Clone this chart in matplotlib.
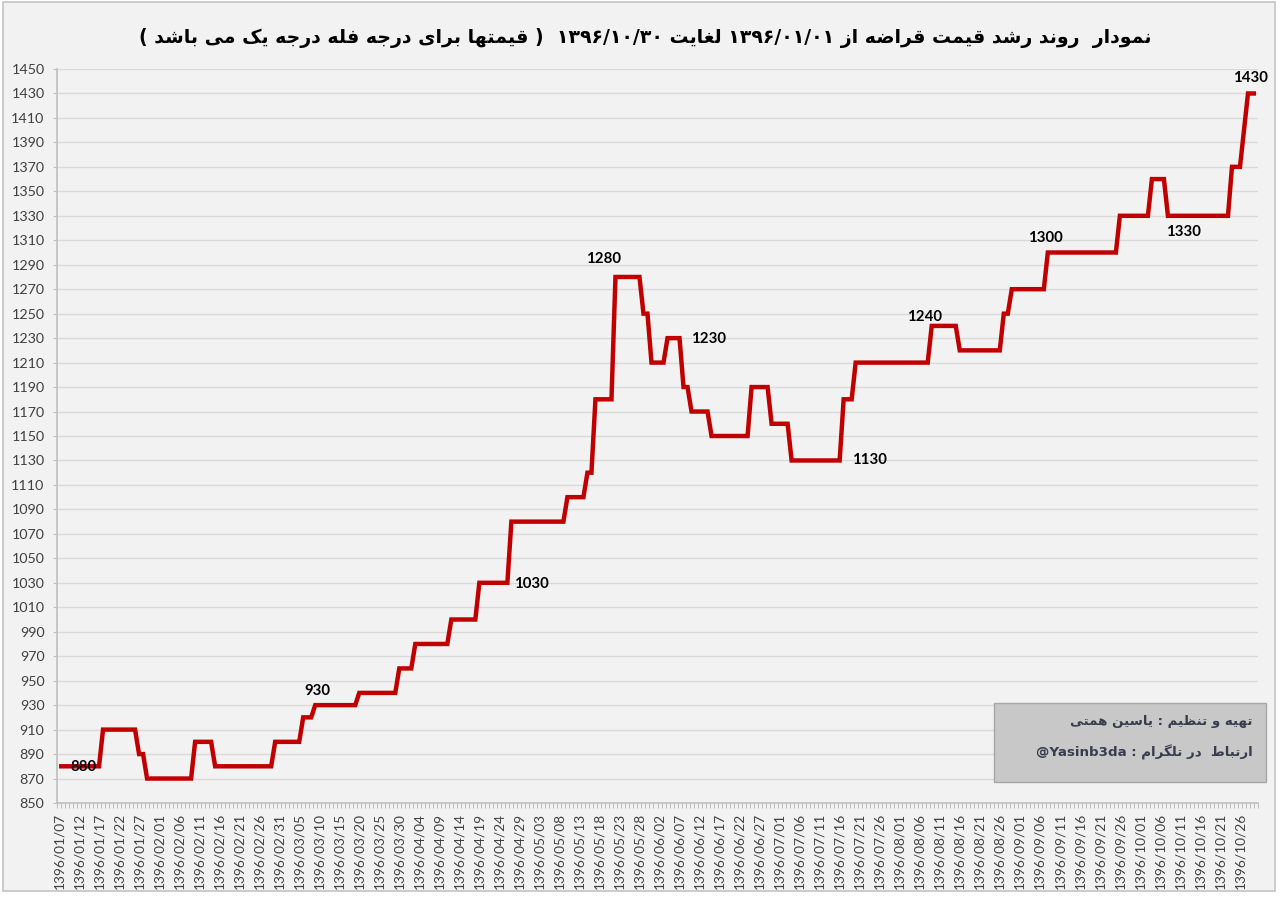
import numpy as np
import matplotlib
matplotlib.use("Agg")
import matplotlib.pyplot as plt
from matplotlib import font_manager
from matplotlib.ft2font import FT2Font
from matplotlib.patches import Rectangle

# ---------------- data ----------------
start_date = (1396, 1, 7)
month_lengths = [31, 31, 31, 31, 31, 31, 30, 30, 30, 30, 30, 29]
label_every = 5
# daily price series, stored as runs: value held for N consecutive days
run_values = [880, 910, 890, 870, 900, 880, 900, 920, 930, 940, 960, 980, 1000,
              1030, 1080, 1100, 1120, 1180, 1280, 1250, 1210, 1230, 1190, 1170,
              1150, 1190, 1160, 1130, 1180, 1210, 1240, 1220, 1250, 1270, 1300,
              1330, 1360, 1330, 1370, 1400, 1430]
run_days = [11, 9, 2, 12, 5, 15, 7, 3, 11, 10, 4, 9, 7,
            8, 14, 5, 2, 5, 7, 2, 4, 4, 2, 5,
            10, 5, 5, 13, 3, 19, 7, 11, 2, 9, 18,
            8, 4, 16, 3, 1, 3]
# annotated points: (day index, dx px, dy px)
label_points = [(6, 0, -1), (64, 2, 14), (112, 24, -1), (139, -12, 18),
                (155, 29, -1), (195, 30, 0), (218, -7, 9), (247, -2, 14),
                (277, 16, -16), (297, 2, 15)]
y_ticks = list(range(850, 1451, 20))

title_text = "نمودار  روند رشد قیمت قراضه از ۱۳۹۶/۰۱/۰۱ لغایت ۱۳۹۶/۱۰/۳۰  ( قیمتها برای درجه فله درجه یک می باشد )"
credit_1 = "تهیه و تنظیم : یاسین همتی"
credit_2 = "ارتباط  در تلگرام : @Yasinb3da"

values = np.repeat(run_values, run_days)
n_days = len(values)

def persian_dates(start, n):
    y, m, d = start
    out = []
    for _ in range(n):
        out.append(f"{y}/{m:02d}/{d:02d}")
        d += 1
        if d > month_lengths[m - 1]:
            d = 1
            m += 1
    return out

dates = persian_dates(start_date, n_days)

# ---------------- simple Persian shaping / bidi ----------------
bold_path = font_manager.findfont(font_manager.FontProperties(family="DejaVu Sans", weight="bold"))
_ft = FT2Font(bold_path)

def has(cp):
    return _ft.get_char_index(cp) != 0

FORMS = {
    '\u0627': (0xFE8D, 0xFE8E, None, None),
    '\u0622': (0xFE81, 0xFE82, None, None),
    '\u0628': (0xFE8F, 0xFE90, 0xFE91, 0xFE92),
    '\u062A': (0xFE95, 0xFE96, 0xFE97, 0xFE98),
    '\u062B': (0xFE99, 0xFE9A, 0xFE9B, 0xFE9C),
    '\u062C': (0xFE9D, 0xFE9E, 0xFE9F, 0xFEA0),
    '\u062D': (0xFEA1, 0xFEA2, 0xFEA3, 0xFEA4),
    '\u062E': (0xFEA5, 0xFEA6, 0xFEA7, 0xFEA8),
    '\u062F': (0xFEA9, 0xFEAA, None, None),
    '\u0630': (0xFEAB, 0xFEAC, None, None),
    '\u0631': (0xFEAD, 0xFEAE, None, None),
    '\u0632': (0xFEAF, 0xFEB0, None, None),
    '\u0633': (0xFEB1, 0xFEB2, 0xFEB3, 0xFEB4),
    '\u0634': (0xFEB5, 0xFEB6, 0xFEB7, 0xFEB8),
    '\u0635': (0xFEB9, 0xFEBA, 0xFEBB, 0xFEBC),
    '\u0636': (0xFEBD, 0xFEBE, 0xFEBF, 0xFEC0),
    '\u0637': (0xFEC1, 0xFEC2, 0xFEC3, 0xFEC4),
    '\u0638': (0xFEC5, 0xFEC6, 0xFEC7, 0xFEC8),
    '\u0639': (0xFEC9, 0xFECA, 0xFECB, 0xFECC),
    '\u063A': (0xFECD, 0xFECE, 0xFECF, 0xFED0),
    '\u0641': (0xFED1, 0xFED2, 0xFED3, 0xFED4),
    '\u0642': (0xFED5, 0xFED6, 0xFED7, 0xFED8),
    '\u0643': (0xFED9, 0xFEDA, 0xFEDB, 0xFEDC),
    '\u0644': (0xFEDD, 0xFEDE, 0xFEDF, 0xFEE0),
    '\u0645': (0xFEE1, 0xFEE2, 0xFEE3, 0xFEE4),
    '\u0646': (0xFEE5, 0xFEE6, 0xFEE7, 0xFEE8),
    '\u0647': (0xFEE9, 0xFEEA, 0xFEEB, 0xFEEC),
    '\u0648': (0xFEED, 0xFEEE, None, None),
    '\u064A': (0xFEF1, 0xFEF2, 0xFEF3, 0xFEF4),
    '\u06CC': (0xFEEF, 0xFEF0, 0xFEF3, 0xFEF4),
    '\u067E': (0xFB56, 0xFB57, 0xFB58, 0xFB59),
    '\u0686': (0xFB7A, 0xFB7B, 0xFB7C, 0xFB7D),
    '\u0698': (0xFB8A, 0xFB8B, None, None),
    '\u06A9': (0xFB8E, 0xFB8F, 0xFB90, 0xFB91),
    '\u06AF': (0xFB92, 0xFB93, 0xFB94, 0xFB95),
}
if not has(0xFB8E):
    FORMS['\u06A9'] = (0xFED9, 0xFEDA, 0xFEDB, 0xFEDC)

def glyph(cp, base):
    return chr(cp) if has(cp) else base

def shape_word(w):
    res = []
    i, n = 0, len(w)
    while i < n:
        c = w[i]
        if c not in FORMS:
            if '\u06F0' <= c <= '\u06F9' and not has(ord(c)):
                c = chr(ord(c) - 0x06F0 + 0x0660)
            res.append(c)
            i += 1
            continue
        prev = w[i - 1] if i > 0 else None
        cp = prev is not None and prev in FORMS and FORMS[prev][2] is not None
        if c == '\u0644' and i + 1 < n and w[i + 1] == '\u0627':
            res.append(chr(0xFEFC if cp else 0xFEFB))
            i += 2
            continue
        nxt = w[i + 1] if i + 1 < n else None
        cn = FORMS[c][2] is not None and nxt is not None and nxt in FORMS
        iso, fin, ini, med = FORMS[c]
        g = med if (cp and cn) else fin if cp else ini if cn else iso
        res.append(glyph(g, c))
        i += 1
    return ''.join(res)

def is_arabic_letter_token(t):
    return any(ch in FORMS or ('\u0600' <= ch <= '\u06EF') for ch in t)

def is_ltr_token(t):
    return (not is_arabic_letter_token(t)) and any(ch.isalnum() for ch in t)

def visual(s):
    toks = s.split(' ')
    kinds = []
    out = []
    for t in toks:
        if is_arabic_letter_token(t):
            out.append(shape_word(t)[::-1]); kinds.append('R')
        elif is_ltr_token(t):
            out.append(shape_word(t)); kinds.append('L')
        else:
            out.append(t.translate(str.maketrans('()', ')('))); kinds.append('N')
    out = out[::-1]
    kinds = kinds[::-1]
    res = []
    i = 0
    while i < len(out):
        if kinds[i] == 'L':
            j = i
            while j + 1 < len(out) and kinds[j + 1] == 'L':
                j += 1
            res.extend(out[i:j + 1][::-1])
            i = j + 1
        else:
            res.append(out[i])
            i += 1
    return ' '.join(res)

# ---------------- figure ----------------
W, H = 1280, 899
fig = plt.figure(figsize=(W / 100, H / 100), dpi=100)
fig.patch.set_facecolor('white')
frame = Rectangle((3 / W, 1 - 891 / H), 1272 / W, 889 / H, transform=fig.transFigure,
                  facecolor='#f2f2f2', edgecolor='#c4c4c4', lw=1.2, zorder=-10)
fig.add_artist(frame)

ax = fig.add_axes([57 / W, 1 - 803 / H, (1258 - 57) / W, (803 - 69) / H])
ax.set_zorder(1)
ax.set_facecolor('#f2f2f2')
x = np.arange(n_days)
ax.plot(x, values, color='#c00000', lw=3.2, solid_joinstyle='miter', solid_capstyle='butt', zorder=3)
ax.set_xlim(-0.5, n_days - 0.5)
ax.set_ylim(y_ticks[0], y_ticks[-1])
ax.set_yticks(y_ticks)
ax.grid(axis='y', color='#d9d9d9', lw=1)
ax.set_axisbelow(True)
for s in ['top', 'right']:
    ax.spines[s].set_visible(False)
for s in ['left', 'bottom']:
    ax.spines[s].set_color('#bfbfbf')
    ax.spines[s].set_linewidth(1.2)

tick_font = ['Lato', 'DejaVu Sans']
label_idx = list(range(0, n_days, label_every))
ax.set_xticks(label_idx)
ax.set_xticklabels([dates[i] for i in label_idx], rotation=90, family=tick_font,
                   fontsize=9.9, color='#404040')
ax.set_xticks(np.arange(-0.5, n_days, 1), minor=True)
ax.tick_params(axis='x', which='major', length=0, pad=7)
ax.tick_params(axis='x', which='minor', length=3.5, color='#bfbfbf', width=0.8)
ax.tick_params(axis='y', length=3, color='#bfbfbf', pad=6)
for lab in ax.get_yticklabels():
    lab.set_family(tick_font)
    lab.set_fontsize(10.3)
    lab.set_color('#404040')

for d, dx, dy in label_points:
    ax.annotate(str(values[d]), (d, values[d]), xytext=(dx, dy), textcoords='offset pixels',
                ha='center', va='center', fontsize=10.8, fontweight='bold', family=tick_font,
                color='#000000', zorder=5)

fig.text(645 / W, 1 - 38 / H, visual(title_text), ha='center', va='center',
         fontsize=13.6, fontweight='bold', family=['DejaVu Sans'], color='#000000')

# credit box
box = Rectangle((994 / W, 1 - 782 / H), (1266 - 994) / W, (782 - 703) / H,
                transform=fig.transFigure, facecolor='#c8c8c8',
                edgecolor='#a6a6a6', lw=1, zorder=5)
fig.add_artist(box)
fig.text(1253 / W, 1 - 722 / H, visual(credit_1), ha='right', va='center', fontsize=9.6,
         fontweight='bold', family=['DejaVu Sans'], color='#3b3b4f', zorder=6)
fig.text(1253 / W, 1 - 752 / H, visual(credit_2), ha='right', va='center', fontsize=9.6,
         fontweight='bold', family=['DejaVu Sans'], color='#3b3b4f', zorder=6)

fig.savefig('out.png', dpi=100, facecolor=fig.get_facecolor())
